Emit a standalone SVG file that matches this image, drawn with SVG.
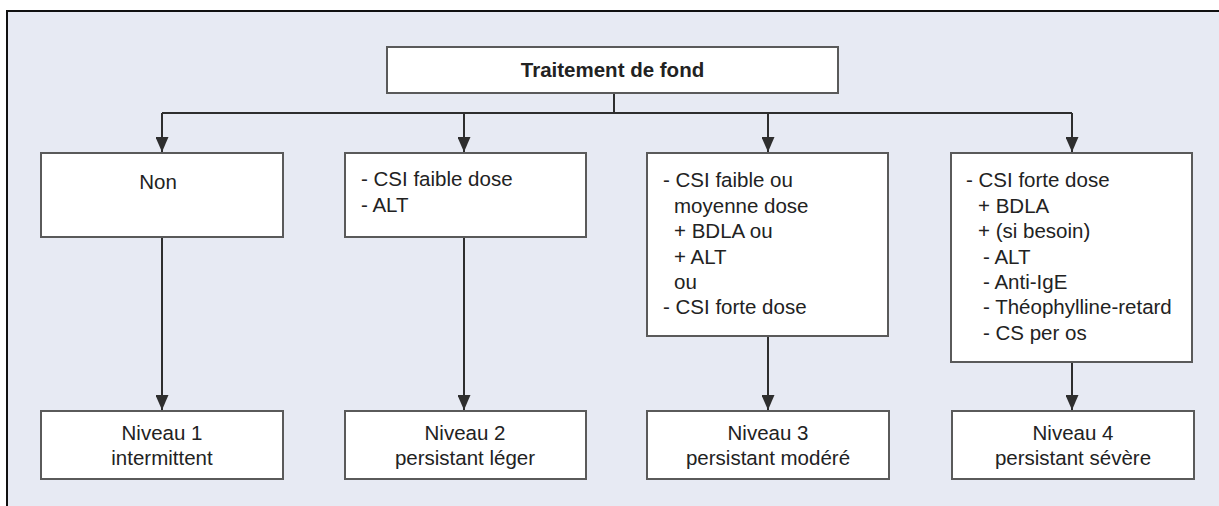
<svg xmlns="http://www.w3.org/2000/svg" width="1219" height="506" viewBox="0 0 1219 506">
  <defs>
    <style>
      .box { fill: #ffffff; stroke: #5a5a5a; stroke-width: 2; }
      .t { font-family: "Liberation Sans", Arial, sans-serif; font-size: 20.5px; fill: #222222; }
      .c { text-anchor: middle; }
      .title { font-weight: bold; }
      .edge { stroke: #2e2e2e; stroke-width: 2; fill: none; }
      .arrow { marker-end: url(#ah); }
    </style>
    <marker id="ah" viewBox="0 0 15 13" refX="15" refY="6.5" markerWidth="15" markerHeight="13" markerUnits="userSpaceOnUse" orient="auto">
      <path d="M0,0 L15,6.5 L0,13 z" fill="#2e2e2e"/>
    </marker>
  </defs>

  <rect x="0" y="0" width="1219" height="506" fill="#ffffff"/>
  <rect x="7" y="11" width="1230" height="510" fill="#e7eaf3" stroke="#111111" stroke-width="2"/>

  <g id="connectors">
    <path class="edge" d="M614,93 V113"/>
    <path class="edge" d="M162,113 H1072"/>
    <path class="edge arrow" d="M162,113 V152"/>
    <path class="edge arrow" d="M464,113 V152"/>
    <path class="edge arrow" d="M768,113 V152"/>
    <path class="edge arrow" d="M1072,113 V152"/>
    <path class="edge arrow" d="M162,237 V410"/>
    <path class="edge arrow" d="M464,237 V410"/>
    <path class="edge arrow" d="M768,336 V410"/>
    <path class="edge arrow" d="M1072,362 V410"/>
  </g>

  <g id="node-title">
    <rect class="box" x="387" y="47" width="451" height="46"/>
    <text class="t c title" x="612.5" y="77">Traitement de fond</text>
  </g>

  <g id="node-non">
    <rect class="box" x="41" y="153" width="242" height="84"/>
    <text class="t c" x="158" y="189">Non</text>
  </g>

  <g id="node-csi-faible">
    <rect class="box" x="345" y="153" width="241" height="84"/>
    <text class="t" x="361" y="186">- CSI faible dose</text>
    <text class="t" x="361" y="212">- ALT</text>
  </g>

  <g id="node-csi-moyenne">
    <rect class="box" x="647" y="153" width="241" height="183"/>
    <text class="t" x="663" y="187">- CSI faible ou</text>
    <text class="t" x="674" y="213">moyenne dose</text>
    <text class="t" x="674" y="238">+ BDLA ou</text>
    <text class="t" x="674" y="264">+ ALT</text>
    <text class="t" x="674" y="289">ou</text>
    <text class="t" x="663" y="314">- CSI forte dose</text>
  </g>

  <g id="node-csi-forte">
    <rect class="box" x="951" y="153" width="241" height="209"/>
    <text class="t" x="966" y="187">- CSI forte dose</text>
    <text class="t" x="978" y="213">+ BDLA</text>
    <text class="t" x="978" y="238">+ (si besoin)</text>
    <text class="t" x="983" y="264">- ALT</text>
    <text class="t" x="983" y="289">- Anti-IgE</text>
    <text class="t" x="983" y="314">- Théophylline-retard</text>
    <text class="t" x="983" y="340">- CS per os</text>
  </g>

  <g id="node-niveau1">
    <rect class="box" x="41" y="411" width="242" height="68"/>
    <text class="t c" x="162" y="440">Niveau 1</text>
    <text class="t c" x="162" y="465">intermittent</text>
  </g>

  <g id="node-niveau2">
    <rect class="box" x="345" y="411" width="241" height="68"/>
    <text class="t c" x="465" y="440">Niveau 2</text>
    <text class="t c" x="465" y="465">persistant léger</text>
  </g>

  <g id="node-niveau3">
    <rect class="box" x="647" y="411" width="242" height="68"/>
    <text class="t c" x="768" y="440">Niveau 3</text>
    <text class="t c" x="768" y="465">persistant modéré</text>
  </g>

  <g id="node-niveau4">
    <rect class="box" x="952" y="411" width="242" height="68"/>
    <text class="t c" x="1073" y="440">Niveau 4</text>
    <text class="t c" x="1073" y="465">persistant sévère</text>
  </g>
</svg>
